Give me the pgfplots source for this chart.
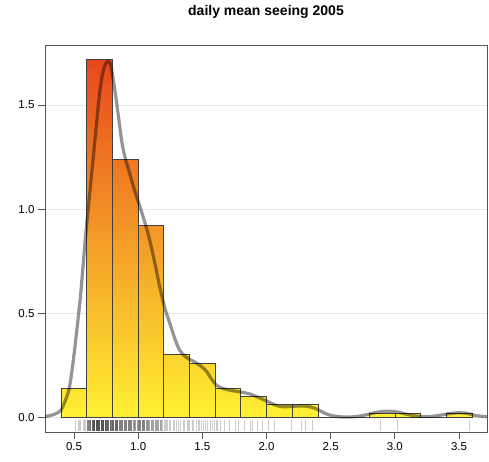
\documentclass[border=0pt]{standalone}
\usepackage{pgfplots}
\pgfplotsset{compat=1.18}
\usepackage{fontspec}
\setmainfont{Liberation Sans}
\definecolor{barlow}{RGB}{255,240,50}
\definecolor{barmid}{RGB}{245,168,40}
\definecolor{barhigh}{RGB}{232,70,28}
\definecolor{boxgray}{RGB}{85,85,85}
\begin{document}
\begin{tikzpicture}[x=1pt,y=1pt]
\useasboundingbox (0,0) rectangle (489,461);
\begin{axis}[
  at={(45pt,29pt)}, anchor=south west,
  scale only axis, width=442pt, height=387pt,
  xmin=0.274, xmax=3.718, ymin=-0.071, ymax=1.788,
  axis line style={boxgray, line width=0.8pt},
  tick style={boxgray, line width=0.8pt},
  tick align=outside, major tick length=7pt,
  tick pos=left,
  xtick={0.5,1,1.5,2,2.5,3,3.5}, ytick={0,0.5,1,1.5},
  ymajorgrids, grid style={black!9, line width=0.6pt},
  ticklabel style={font=\fontsize{11.5}{13}\selectfont},
  /pgf/number format/assume math mode=true,
  /pgf/number format/.cd, fixed, fixed zerofill, precision=1, /pgfplots/.cd,
  title={daily mean seeing 2005},
  title style={font=\fontsize{14}{16}\selectfont\bfseries, at={(0.5,1)}, anchor=base, yshift=23pt},
]
% gradient-filled histogram area
\addplot[const plot, draw=none, shading=axis, bottom color=barlow, middle color=barmid, top color=barhigh]
  coordinates {(0.4,0.14)(0.6,1.72)(0.8,1.24)(1.0,0.92)(1.2,0.30)(1.4,0.26)(1.6,0.14)(1.8,0.10)(2.0,0.06)(2.2,0.06)(2.4,0)(2.6,0)(2.8,0.02)(3.0,0.02)(3.2,0)(3.4,0.02)(3.6,0.02)} \closedcycle;
% bar outlines
\addplot[ybar interval, draw=black!75, line width=0.7pt, fill=none]
  coordinates {(0.4,0.14)(0.6,1.72)(0.8,1.24)(1.0,0.92)(1.2,0.30)(1.4,0.26)(1.6,0.14)(1.8,0.10)(2.0,0.06)(2.2,0.06)(2.4,0)(2.6,0)(2.8,0.02)(3.0,0.02)(3.2,0)(3.4,0.02)(3.6,0.02)};
% density curve
\addplot[smooth, black, draw opacity=0.42, line width=3.2pt]
  coordinates {(0.274,0.004)(0.30,0.006)(0.35,0.015)(0.40,0.035)(0.45,0.11)(0.47,0.163)(0.50,0.30)(0.55,0.58)(0.59,0.87)(0.625,1.09)(0.663,1.33)(0.70,1.56)(0.73,1.67)(0.762,1.708)(0.79,1.68)(0.83,1.52)(0.871,1.33)(0.897,1.25)(0.93,1.18)(0.962,1.11)(1.014,1.01)(1.05,0.94)(1.09,0.85)(1.13,0.74)(1.17,0.62)(1.21,0.52)(1.247,0.45)(1.29,0.37)(1.325,0.32)(1.37,0.29)(1.41,0.275)(1.455,0.26)(1.50,0.24)(1.533,0.22)(1.57,0.185)(1.61,0.154)(1.66,0.138)(1.714,0.13)(1.79,0.122)(1.87,0.112)(1.93,0.097)(2.00,0.078)(2.07,0.058)(2.13,0.05)(2.20,0.052)(2.28,0.054)(2.34,0.05)(2.40,0.037)(2.45,0.02)(2.50,0.009)(2.56,0.003)(2.62,0.001)(2.70,0.003)(2.78,0.012)(2.86,0.024)(2.94,0.029)(3.02,0.025)(3.10,0.013)(3.18,0.005)(3.26,0.003)(3.34,0.008)(3.42,0.017)(3.48,0.021)(3.55,0.02)(3.63,0.008)(3.718,0.002)};
% rug
\addplot[only marks, mark=|, mark size=5.35pt, mark options={draw=black, draw opacity=0.2, line width=0.6pt}]
  table[row sep=\\, y expr=-0.04] {x\\
  0.51\\0.53\\0.54\\0.55\\0.57\\0.58\\0.59\\
  0.60\\0.60\\0.60\\0.61\\0.61\\0.61\\0.62\\0.62\\0.62\\0.63\\0.63\\0.63\\0.63\\0.64\\0.64\\0.64\\0.64\\
  0.65\\0.65\\0.65\\0.65\\0.65\\0.66\\0.66\\0.66\\0.66\\0.66\\0.67\\0.67\\0.67\\0.67\\0.67\\
  0.68\\0.68\\0.68\\0.68\\0.68\\0.69\\0.69\\0.69\\0.69\\0.69\\0.70\\0.70\\0.70\\0.70\\0.70\\
  0.71\\0.71\\0.71\\0.71\\0.71\\0.72\\0.72\\0.72\\0.72\\0.72\\0.73\\0.73\\0.73\\0.73\\0.73\\
  0.74\\0.74\\0.74\\0.74\\0.74\\0.75\\0.75\\0.75\\0.75\\0.76\\0.76\\0.76\\0.76\\
  0.77\\0.77\\0.77\\0.77\\0.78\\0.78\\0.78\\0.78\\0.79\\0.79\\0.79\\
  0.80\\0.80\\0.80\\0.80\\0.81\\0.81\\0.81\\0.81\\0.82\\0.82\\0.82\\0.82\\0.83\\0.83\\0.83\\0.83\\0.84\\0.84\\0.84\\0.84\\
  0.85\\0.85\\0.85\\0.86\\0.86\\0.86\\0.87\\0.87\\0.87\\0.88\\0.88\\0.88\\0.89\\0.89\\0.89\\
  0.90\\0.90\\0.90\\0.91\\0.91\\0.91\\0.92\\0.92\\0.92\\0.93\\0.93\\0.93\\0.94\\0.94\\0.94\\
  0.95\\0.95\\0.95\\0.96\\0.96\\0.97\\0.97\\0.97\\0.98\\0.98\\0.99\\0.99\\
  1.00\\1.00\\1.00\\1.01\\1.01\\1.01\\1.02\\1.02\\1.02\\1.03\\1.03\\1.03\\1.04\\1.04\\1.04\\1.05\\1.05\\1.05\\
  1.06\\1.06\\1.07\\1.07\\1.07\\1.08\\1.08\\1.09\\1.09\\1.10\\1.10\\1.11\\1.11\\1.12\\1.12\\1.13\\1.13\\
  1.14\\1.14\\1.15\\1.15\\1.16\\1.16\\1.17\\1.17\\1.18\\1.18\\1.19\\
  1.20\\1.21\\1.22\\1.23\\1.24\\1.25\\1.27\\1.28\\1.30\\1.31\\1.33\\1.35\\1.36\\1.38\\1.39\\
  1.40\\1.42\\1.43\\1.45\\1.47\\1.48\\1.49\\1.51\\1.52\\1.54\\1.56\\1.58\\1.59\\
  1.61\\1.62\\1.64\\1.67\\1.71\\1.76\\1.78\\
  1.83\\1.87\\1.89\\1.93\\1.97\\
  2.01\\2.06\\2.19\\2.27\\2.30\\2.36\\2.89\\3.02\\3.58\\
  };
\end{axis}
\end{tikzpicture}
\end{document}
